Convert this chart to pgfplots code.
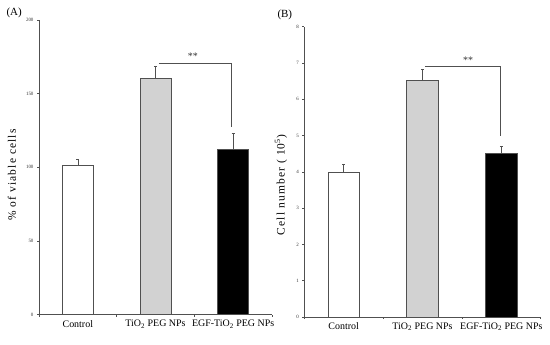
\documentclass[border=0pt]{standalone}
\usepackage{fontspec}
\setmainfont{Liberation Serif}
\usepackage{pgfplots}
\pgfplotsset{compat=1.18}
\definecolor{edge}{RGB}{80,80,80}
\definecolor{lgray}{RGB}{210,210,210}
\begin{document}
\begin{tikzpicture}[x=1bp,y=1bp]
\useasboundingbox (0,0) rectangle (550,344);
\pgfplotsset{
  myax/.style={
    scale only axis, clip=false,
    axis x line=bottom, axis y line=left,
    axis line style={-, draw=edge, line width=0.7pt},
    xmin=-0.5, xmax=2.5, ymin=0,
    xtick={-0.5,0.5,1.5,2.5}, xticklabels={},
    extra x ticks={0,1,2},
    extra x tick labels={Control, TiO\textsubscript{2} PEG NPs, EGF-TiO\textsubscript{2} PEG NPs},
    extra x tick style={major tick length=0pt, tick label style={font=\fontsize{10}{12}\selectfont, yshift=-2pt}},
    tick align=outside, major tick length=2pt,
    tick style={draw=edge, line width=0.5pt},
    yticklabel style={font=\fontsize{5}{6}\selectfont, text=black!80},
    /pgf/number format/assume math mode=true,
    ybar, bar width=0.4,
    error bars/error bar style={draw=edge, line width=0.6pt},
    error bars/error mark options={rotate=90, mark size=1.5pt, draw=edge},
  },
}
% Panel A
\begin{axis}[myax, at={(39bp,29.3bp)}, anchor=south west, width=233bp, height=294.7bp,
  ymax=200, ytick={0,50,100,150,200}]
\addplot[bar shift=0pt, fill=white, draw=edge, line width=0.7pt,
  error bars/.cd, y dir=plus, y explicit] coordinates {(0,101.3) +- (0,4.2)};
\addplot[bar shift=0pt, fill=lgray, draw=edge, line width=0.7pt,
  error bars/.cd, y dir=plus, y explicit] coordinates {(1,160.7) +- (0,8.1)};
\addplot[bar shift=0pt, fill=black, draw=edge, line width=0.7pt,
  error bars/.cd, y dir=plus, y explicit] coordinates {(2,111.9) +- (0,11.3)};
\draw[edge, line width=0.6pt] (axis cs:1.045,170.6) -- (axis cs:1.97,170.6) -- (axis cs:1.97,127.6);
\node[font=\fontsize{10}{12}\selectfont, text=black!80] at (axis cs:1.48,175.5) {**};
\end{axis}
% Panel B
\begin{axis}[myax, at={(304.3bp,27bp)}, anchor=south west, width=236.4bp, height=290.3bp,
  ymax=8, ytick={0,1,2,3,4,5,6,7,8}]
\addplot[bar shift=0pt, fill=white, draw=edge, line width=0.7pt,
  error bars/.cd, y dir=plus, y explicit] coordinates {(0,4.0) +- (0,0.2)};
\addplot[bar shift=0pt, fill=lgray, draw=edge, line width=0.7pt,
  error bars/.cd, y dir=plus, y explicit] coordinates {(1,6.51) +- (0,0.31)};
\addplot[bar shift=0pt, fill=black, draw=edge, line width=0.7pt,
  error bars/.cd, y dir=plus, y explicit] coordinates {(2,4.5) +- (0,0.21)};
\draw[edge, line width=0.6pt] (axis cs:1.03,6.92) -- (axis cs:1.99,6.92) -- (axis cs:1.99,5.0);
\node[font=\fontsize{10}{12}\selectfont, text=black!80] at (axis cs:1.58,7.08) {**};
\end{axis}
% labels
\node[rotate=90, font=\fontsize{11.5}{13}\selectfont\addfontfeatures{LetterSpace=10}] at (12,169) {\% of viable cells};
\node[rotate=90, font=\fontsize{11.5}{13}\selectfont\addfontfeatures{LetterSpace=10}] at (281,159) {Cell number ( 10\textsuperscript{5})};
\node[font=\fontsize{11}{13}\selectfont, anchor=west] at (3,331) {(A)};
\node[font=\fontsize{11}{13}\selectfont, anchor=west] at (274,329) {(B)};
\end{tikzpicture}
\end{document}
